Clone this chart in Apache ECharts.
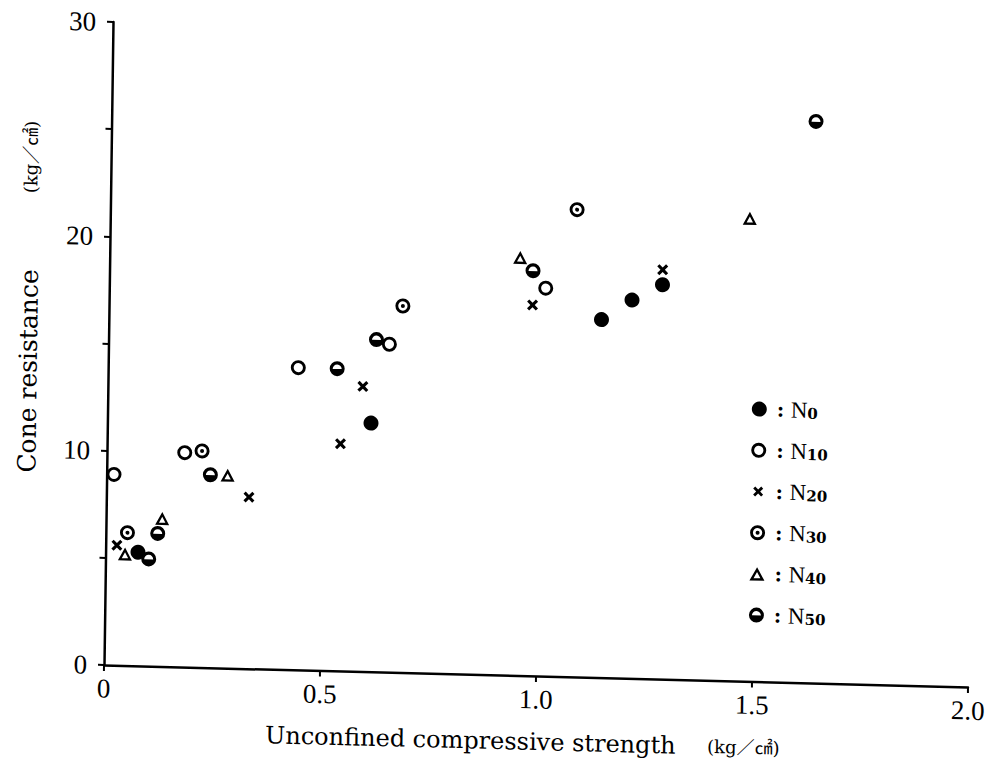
<!DOCTYPE html>
<html>
<head>
<meta charset="utf-8">
<script src="https://cdn.jsdelivr.net/npm/echarts@6/dist/echarts.min.js"></script>
<style>
  html, body { margin: 0; padding: 0; background: #fff; overflow: hidden; }
  /* the printed figure sits slightly askew on the page */
  #chart { width: 988px; height: 772px; transform-origin: 104px 665px;
           transform: matrix(1, 0.0255, -0.014, 1, 0, 0); }
</style>
</head>
<body>
<div id="chart"></div>
<script>
// Unconfined compressive strength (kg/cm2) and cone resistance (kg/cm2) per mix
const seriesNames = ['N0', 'N10', 'N20', 'N30', 'N40', 'N50'];

const n0X = [0.075, 0.61, 1.14, 1.21, 1.28];
const n0Y = [5.3, 11.6, 16.7, 17.65, 18.4];

const n10X = [0.017, 0.18, 0.44, 0.65, 1.01];
const n10Y = [8.9, 10.0, 14.1, 15.3, 18.1];

const n20X = [0.026, 0.33, 0.54, 0.59, 0.98, 1.28];
const n20Y = [5.6, 8.0, 10.6, 13.3, 17.3, 19.1];

const n30X = [0.05, 0.22, 0.68, 1.08];
const n30Y = [6.2, 10.1, 17.1, 21.8];

const n40X = [0.045, 0.13, 0.28, 0.95, 1.48];
const n40Y = [5.2, 6.9, 9.0, 19.5, 21.6];

const n50X = [0.10, 0.12, 0.24, 0.53, 0.62, 0.98, 1.63];
const n50Y = [5.0, 6.2, 9.0, 14.1, 15.5, 18.9, 26.2];

const xTickLabels = ['0', '0.5', '1.0', '1.5', '2.0'];
const yTickLabels = ['0', '10', '20', '30'];

const xTitle = 'Unconfined compressive strength';
const yTitle = 'Cone resistance';
const unitText = '(kg\uFF0F\u33A0)';

// marker shapes (filled outlines with cut-out holes)
const RING = 'M0 10A10 10 0 1 1 20 10A10 10 0 1 1 0 10Z';
const HOLE = 'M3.8 10A6.2 6.2 0 1 0 16.2 10A6.2 6.2 0 1 0 3.8 10Z';
const SYM = {
  N0: 'circle',
  N10: 'path://' + RING + ' ' + HOLE,
  N20: 'path://M-5 -5Z M25 25Z M0 4L4 0L10 6L16 0L20 4L14 10L20 16L16 20L10 14L4 20L0 16L6 10Z',
  N30: 'path://' + RING + ' ' + HOLE + ' M7.3 10A2.7 2.7 0 1 1 12.7 10A2.7 2.7 0 1 1 7.3 10Z',
  N40: 'path://M10 0L20 18L0 18Z M10 6.6L5.44 14.8L14.56 14.8Z',
  N50: 'path://' + RING + ' M4 10.5L16 10.5A6 6 0 0 0 4 10.5Z'
};
const SIZE = { N0: 15, N10: 15, N20: 16.5, N30: 15, N40: [14, 13], N50: 15 };

const SERIF = '"DejaVu Serif", "Noto Sans CJK JP", serif';
const NUM = '"Liberation Serif", serif';

function pairs(xs, ys) { return xs.map((x, i) => [x, ys[i]]); }
const allData = {
  N0: pairs(n0X, n0Y), N10: pairs(n10X, n10Y), N20: pairs(n20X, n20Y),
  N30: pairs(n30X, n30Y), N40: pairs(n40X, n40Y), N50: pairs(n50X, n50Y)
};

const chart = echarts.init(document.getElementById('chart'), null, { renderer: 'svg' });

chart.setOption({
  animation: false,
  backgroundColor: '#fff',
  grid: { left: 104, right: 20, top: 22, bottom: 107, containLabel: false },
  xAxis: {
    type: 'value', min: 0, max: 2, interval: 0.5,
    axisLine: { lineStyle: { color: '#000', width: 2.5 } },
    axisTick: { length: 6, lineStyle: { color: '#000', width: 2 } },
    splitLine: { show: false },
    axisLabel: {
      color: '#000', fontFamily: NUM, fontSize: 27, margin: 10,
      formatter: v => xTickLabels[Math.round(v / 0.5)]
    }
  },
  yAxis: {
    type: 'value', min: 0, max: 30, interval: 5,
    axisLine: { lineStyle: { color: '#000', width: 2.5 } },
    axisTick: { length: 6, lineStyle: { color: '#000', width: 2 } },
    splitLine: { show: false },
    axisLabel: {
      color: '#000', fontFamily: NUM, fontSize: 27, margin: 17,
      formatter: v => (v % 10 === 0 ? yTickLabels[v / 10] : '')
    }
  },
  legend: {
    orient: 'vertical', left: 743, top: 376,
    itemWidth: 15, itemHeight: 15, itemGap: 18.2,
    selectedMode: false,
    data: seriesNames.map(n => ({ name: n, icon: SYM[n] })),
    formatter: name => '{c|:}  {n|N}{s|' + name.slice(1) + '}',
    textStyle: {
      color: '#000',
      rich: {
        c: { fontSize: 20, fontFamily: SERIF, fontWeight: 'bold', lineHeight: 22, color: '#000', padding: [0, 0, 0, 5] },
        n: { fontSize: 23, fontFamily: NUM, lineHeight: 22, color: '#000' },
        s: { fontSize: 15, fontFamily: SERIF, fontWeight: 'bold', lineHeight: 22,
             verticalAlign: 'bottom', color: '#000' }
      }
    }
  },
  graphic: [
    { type: 'text', x: 266, y: 731, silent: true,
      style: { text: xTitle, fontSize: 24, fontFamily: SERIF, fill: '#000',
               align: 'left', verticalAlign: 'middle', textAlign: 'left', textVerticalAlign: 'middle' } },
    { type: 'text', x: 708, y: 731, silent: true,
      style: { text: unitText, fontSize: 18, fontFamily: SERIF, fill: '#000',
               align: 'left', verticalAlign: 'middle', textAlign: 'left', textVerticalAlign: 'middle' } },
    { type: 'text', x: 24, y: 373, rotation: Math.PI / 2, silent: true,
      style: { text: yTitle, fontSize: 25, fontFamily: SERIF, fill: '#000',
               align: 'center', verticalAlign: 'middle', textAlign: 'center', textVerticalAlign: 'middle' } },
    { type: 'text', x: 24, y: 159, rotation: Math.PI / 2, silent: true,
      style: { text: unitText, fontSize: 18, fontFamily: SERIF, fill: '#000',
               align: 'center', verticalAlign: 'middle', textAlign: 'center', textVerticalAlign: 'middle' } }
  ],
  series: seriesNames.map(n => ({
    name: n, type: 'scatter',
    symbol: SYM[n], symbolSize: SIZE[n],
    itemStyle: { color: '#000', opacity: 1 },
    data: allData[n]
  }))
});
</script>
</body>
</html>
